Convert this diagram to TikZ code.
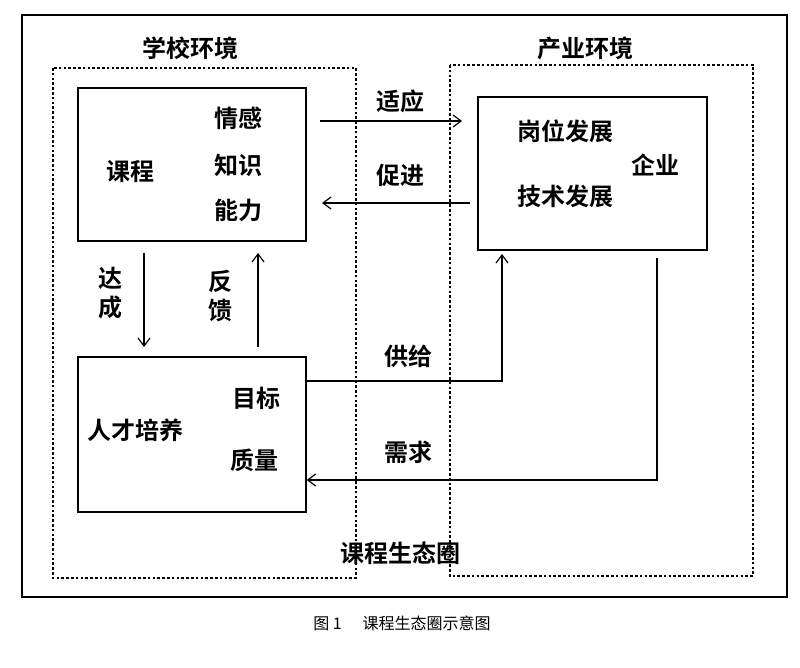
\documentclass[tikz,border=0pt]{standalone}
\usepackage{fontspec}
\newfontfamily\cjk{Noto Sans CJK SC}[BoldFont={* Bold}]
\newfontfamily\cjkl{Noto Sans CJK SC}
\usetikzlibrary{arrows.meta}
\begin{document}
\begin{tikzpicture}[x=1pt,y=-1pt,
  lbl/.style={font=\cjk\bfseries\fontsize{24}{28}\selectfont, inner sep=0pt},
  boxs/.style={draw, line width=1.4pt},
  env/.style={draw, line width=1.4pt, dash pattern=on 2.6pt off 2.2pt},
  arr/.style={line width=1.2pt, -{Straight Barb[length=8pt,width=12pt,line width=1.2pt]}},
  ln/.style={line width=1.2pt}]
\useasboundingbox (0,0) rectangle (800,668);
\draw[line width=1.5pt] (22,15) rectangle (787,597);
\draw[env] (53,68) rectangle (356,578);
\draw[env] (450,65) rectangle (753,576);
\node[lbl] (t1) at (190,48) {学校环境};
\node[lbl] (t2) at (585,48) {产业环境};
% course box
\node[boxs, minimum width=228pt, minimum height=153pt, inner sep=0pt] (course) at (192,164.5) {};
\node[lbl] (kc) at (130,172) {课程};
\node[lbl] (qg) at (238,118) {情感};
\node[lbl] (zs) at (238,165) {知识};
\node[lbl] (nl) at (238,210) {能力};
% industry box
\node[boxs, minimum width=229pt, minimum height=153pt, inner sep=0pt] (ind) at (592.5,173.5) {};
\node[lbl] (gw) at (565,131) {岗位发展};
\node[lbl] (js) at (565,196) {技术发展};
\node[lbl] (qy) at (655,165) {企业};
% talent box
\node[boxs, minimum width=228pt, minimum height=155pt, inner sep=0pt] (tal) at (192,434.5) {};
\node[lbl] (rc) at (135,430) {人才培养};
\node[lbl] (mb) at (256,398) {目标};
\node[lbl] (zl) at (254,460) {质量};
% coordinates
\coordinate (a1) at (320,121);
\coordinate (a2) at (462,121);
\coordinate (b1) at (470,203);
\coordinate (b2) at (322,203);
\coordinate (c1) at (144,253);
\coordinate (c2) at (144,347);
\coordinate (d1) at (258,347);
\coordinate (d2) at (258,253);
\coordinate (g1) at (502,381);
\coordinate (g2) at (502,254);
\coordinate (x1) at (657,258);
\coordinate (x2) at (657,480);
% arrows
\draw[arr] (a1) -- (a2);
\node[lbl] (sy) at (400,101) {适应};
\draw[arr] (b1) -- (b2);
\node[lbl] (cj) at (400,175) {促进};
\draw[arr] (c1) -- (c2);
\node[lbl, align=center] (dc) at (110,293) {达\\[1pt]成};
\draw[arr] (d1) -- (d2);
\node[lbl, align=center] (fk) at (220,296) {反\\[1pt]馈};
\draw[arr] (tal.east |- g1) -- (g1) -- (g2);
\node[lbl] (gj) at (408,356) {供给};
\draw[arr] (x1) -- (x2) -- (tal.east |- x2);
\node[lbl] (xq) at (408,452) {需求};
\node[lbl] (st) at (400,553) {课程生态圈};
\node[font=\cjkl\fontsize{16}{18}\selectfont, inner sep=0pt] (cap) at (402,623) {图 1\hspace{1.3em}课程生态圈示意图};
\end{tikzpicture}
\end{document}
